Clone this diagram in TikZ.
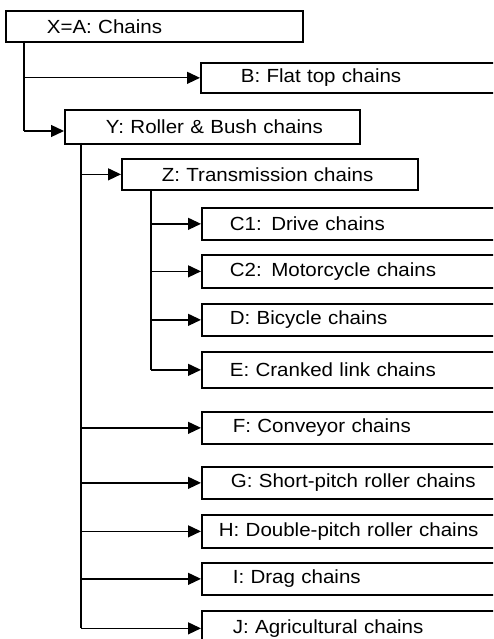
\documentclass[tikz,border=0pt]{standalone}
\usepackage{fontspec}
\setmainfont[FakeStretch=1.08]{Liberation Sans}
\usetikzlibrary{arrows.meta}

\begin{document}
\begin{tikzpicture}[x=1pt,y=-1pt,>={Triangle[length=13pt,width=12pt]},
  box/.style={draw,line width=1.7pt,anchor=north west,inner ysep=0pt,align=left,font=\fontsize{19}{21}\selectfont},
  link/.style={line width=1.3pt}]
\useasboundingbox (0,0) rectangle (493,639);
\clip (0,0) rectangle (493,639);
% top level boxes
\node[box,minimum height=31pt,text width=215pt,inner xsep=41pt] (X) at (5,10) {X=A: Chains};
\node[box,minimum height=30pt,text width=240pt,inner xsep=40pt] (B) at (200,62) {B: Flat top chains};
\node[box,minimum height=34pt,text width=213pt,inner xsep=41pt] (Y) at (64,109) {\mbox{Y: Roller \& Bush chains}};
\node[box,minimum height=31pt,text width=216pt,inner xsep=40pt] (Z) at (121,158) {Z: Transmission chains};
% transmission chains
\node[box,minimum height=32pt,text width=263pt,inner xsep=28pt] (C1) at (201,207) {C1: Drive chains};
\node[box,minimum height=33pt,text width=263pt,inner xsep=28pt] (C2) at (201,254) {C2: Motorcycle chains};
\node[box,minimum height=32pt,text width=263pt,inner xsep=28pt] (D) at (201,303) {D: Bicycle chains};
\node[box,minimum height=36pt,text width=263pt,inner xsep=28pt] (E) at (201,351) {E: Cranked link chains};
% other roller & bush chains
\node[box,minimum height=32pt,text width=257pt,inner xsep=31pt] (F) at (201,411) {F: Conveyor chains};
\node[box,minimum height=32pt,text width=261pt,inner xsep=29pt] (G) at (201,466) {G: Short-pitch roller chains};
\node[box,minimum height=33pt,text width=285pt,inner xsep=17pt] (H) at (201,514) {H: Double-pitch roller chains};
\node[box,minimum height=32pt,text width=257pt,inner xsep=31pt] (I) at (201,562) {I: Drag chains};
\node[box,minimum height=35pt,text width=257pt,inner xsep=31pt] (J) at (201,610) {J: Agricultural chains};
% trunks
\coordinate (xt) at (24,41);
\coordinate (xb) at (24,131);
\coordinate (yt) at (81,143);
\coordinate (zt) at (151,189);
\draw[link] (xt) -- (xb);
\draw[link,->] (xt |- B.west) -- (B.west);
\draw[link,->] (xb) -- (xb -| Y.west);
\draw[link] (yt) -- (yt |- J.west);
\draw[link,->] (yt |- Z.west) -- (Z.west);
\foreach \n in {F,G,H,I,J} \draw[link,->] (yt |- \n.west) -- (\n.west);
\draw[link] (zt) -- (zt |- E.west);
\foreach \n in {C1,C2,D,E} \draw[link,->] (zt |- \n.west) -- (\n.west);
\end{tikzpicture}
\end{document}
